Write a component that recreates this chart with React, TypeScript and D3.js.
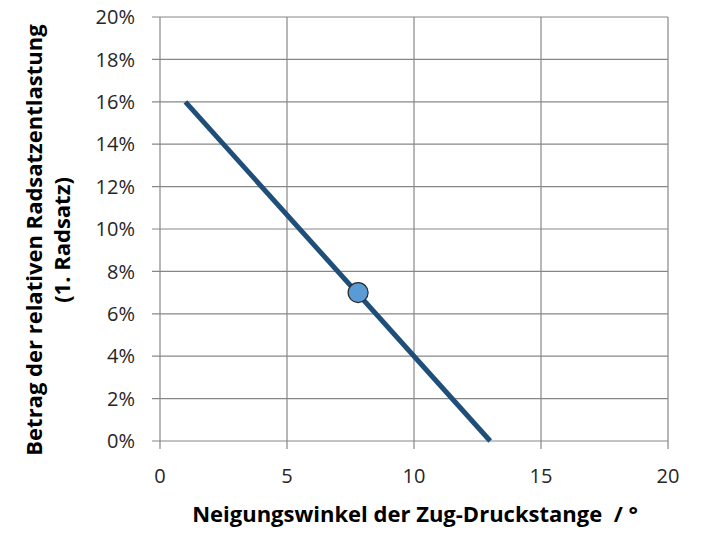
import React, { useEffect, useRef } from 'react';
import * as d3 from 'd3';

// line: relative axle unloading vs. angle of the draw-push bar
const lineX = [1, 13];
const lineY = [0.16, 0];
// highlighted operating point
const pointX = [7.8];
const pointY = [0.07];

const xTicks = [0, 5, 10, 15, 20];
const yTicks = [0, 0.02, 0.04, 0.06, 0.08, 0.1, 0.12, 0.14, 0.16, 0.18, 0.2];

const xTitle = 'Neigungswinkel der Zug-Druckstange\u00a0 / °';
const yTitleLines = ['Betrag der relativen Radsatzentlastung', '(1. Radsatz)'];

const App: React.FC = () => {
  const svgRef = useRef<SVGSVGElement>(null);

  useEffect(() => {
    if (!svgRef.current) return;
    const svg = d3.select(svgRef.current);
    svg.selectAll('*').remove();

    const left = 160, right = 668, top = 17, bottom = 441;
    const font = '"Open Sans", Lato, sans-serif';

    const x = d3.scaleLinear().domain([0, 20]).range([left, right]);
    const y = d3.scaleLinear().domain([0, 0.2]).range([bottom, top]);

    const grid = svg.append('g').attr('stroke', '#878787').attr('stroke-width', 1.2);

    // horizontal gridlines (with outside tick marks)
    grid.selectAll('line.h')
      .data(yTicks)
      .enter()
      .append('line')
      .attr('x1', left - 8)
      .attr('x2', right)
      .attr('y1', d => y(d))
      .attr('y2', d => y(d));

    // vertical gridlines
    grid.selectAll('line.v')
      .data(xTicks)
      .enter()
      .append('line')
      .attr('x1', d => x(d))
      .attr('x2', d => x(d))
      .attr('y1', top)
      .attr('y2', bottom + 8);

    // y tick labels
    svg.append('g')
      .selectAll('text')
      .data(yTicks)
      .enter()
      .append('text')
      .attr('x', 135)
      .attr('y', d => y(d))
      .attr('dy', '0.36em')
      .attr('text-anchor', 'end')
      .attr('font-family', font)
      .attr('font-size', 20)
      .attr('fill', '#262626')
      .text(d => d3.format('.0%')(d));

    // x tick labels
    svg.append('g')
      .selectAll('text')
      .data(xTicks)
      .enter()
      .append('text')
      .attr('x', d => x(d))
      .attr('y', 483)
      .attr('text-anchor', 'middle')
      .attr('font-family', font)
      .attr('font-size', 20)
      .attr('fill', '#262626')
      .text(d => String(d));

    // series line
    const pts = lineX.map((v, i) => [v, lineY[i]] as [number, number]);
    svg.append('path')
      .datum(pts)
      .attr('fill', 'none')
      .attr('stroke', '#1f4e79')
      .attr('stroke-width', 5)
      .attr('d', d3.line<[number, number]>().x(d => x(d[0])).y(d => y(d[1])));

    // marker
    svg.append('g')
      .selectAll('circle')
      .data(pointX.map((v, i) => [v, pointY[i]]))
      .enter()
      .append('circle')
      .attr('cx', d => x(d[0]))
      .attr('cy', d => y(d[1]))
      .attr('r', 10)
      .attr('fill', '#5b9bd5')
      .attr('stroke', '#2b2b2b')
      .attr('stroke-width', 1.2);

    // axis titles
    svg.append('text')
      .attr('x', 415)
      .attr('y', 522)
      .attr('text-anchor', 'middle')
      .attr('font-family', font)
      .attr('font-weight', 'bold')
      .attr('font-size', 22)
      .attr('fill', '#000')
      .text(xTitle);

    const yt = svg.append('text')
      .attr('transform', 'translate(42,240) rotate(-90)')
      .attr('text-anchor', 'middle')
      .attr('font-family', font)
      .attr('font-weight', 'bold')
      .attr('font-size', 22)
      .attr('fill', '#000');
    yTitleLines.forEach((t, i) => {
      yt.append('tspan').attr('x', 0).attr('y', i * 28).text(t);
    });
  }, []);

  return (
    <div style={{ position: 'absolute', left: 0, top: 0, width: 707, height: 533, background: '#fff' }}>
      <svg ref={svgRef} width={707} height={533} style={{ display: 'block' }}></svg>
    </div>
  );
};

export default App;
